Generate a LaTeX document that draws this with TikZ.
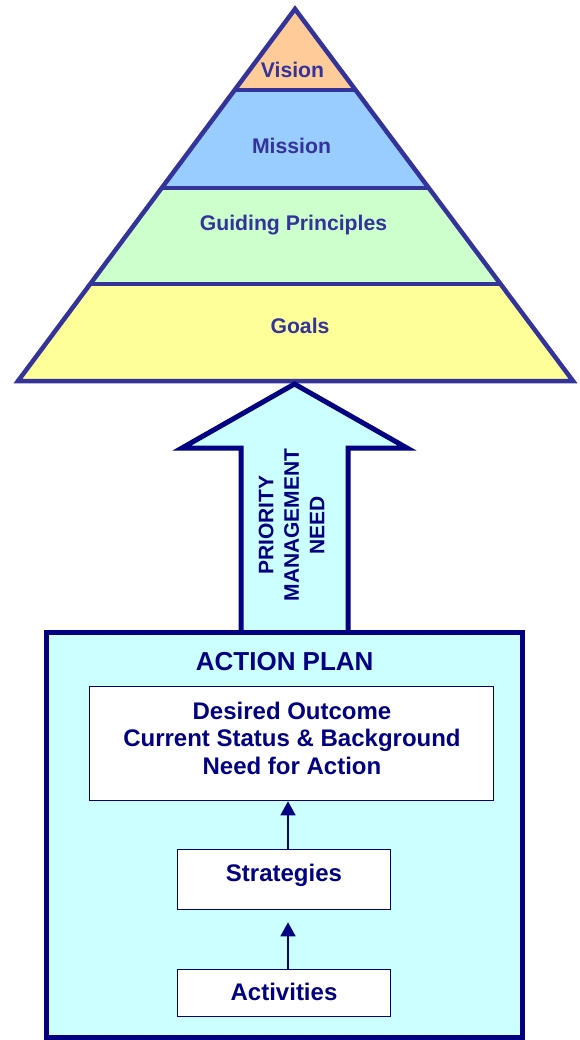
\documentclass[tikz,border=0pt]{standalone}
\usepackage{fontspec}
\setmainfont{Liberation Sans}
\usetikzlibrary{arrows.meta,calc}
\definecolor{pyr}{HTML}{333399}
\definecolor{navyc}{HTML}{000080}
\definecolor{visionc}{HTML}{FFCC99}
\definecolor{missionc}{HTML}{99CCFF}
\definecolor{guidec}{HTML}{CCFFCC}
\definecolor{goalsc}{HTML}{FFFF99}
\definecolor{aqua}{HTML}{CCFFFF}
\begin{document}
\begin{tikzpicture}[x=1pt,y=-1pt,
  pyrline/.style={draw=pyr, line width=4.5pt, line join=miter},
  pyrlabel/.style={font=\bfseries\fontsize{21.2}{24}\selectfont, text=pyr, inner sep=0, anchor=base},
  box/.style={draw=navyc, line width=1.6pt, fill=white, inner sep=0, rectangle},
  boxtext/.style={font=\bfseries\fontsize{24}{27.5}\selectfont, text=navyc, align=center, inner sep=0},
  flow/.style={draw=navyc, line width=1.6pt, -{Triangle[width=15pt,length=14pt]}},
  ]
\useasboundingbox (0,0) rectangle (580,1040);
% pyramid
\coordinate (apex) at (295,9);
\coordinate (bl) at (18,381);
\coordinate (br) at (573,381);
\coordinate (l1) at ($(apex)!0.2177!(bl)$);
\coordinate (r1) at ($(apex)!0.2177!(br)$);
\coordinate (l2) at ($(apex)!0.4812!(bl)$);
\coordinate (r2) at ($(apex)!0.4812!(br)$);
\coordinate (l3) at ($(apex)!0.7392!(bl)$);
\coordinate (r3) at ($(apex)!0.7392!(br)$);
\fill[visionc] (apex) -- (l1) -- (r1) -- cycle;
\fill[missionc] (l1) -- (l2) -- (r2) -- (r1) -- cycle;
\fill[guidec] (l2) -- (l3) -- (r3) -- (r2) -- cycle;
\fill[goalsc] (l3) -- (bl) -- (br) -- (r3) -- cycle;
\draw[pyrline] (apex) -- (bl) -- (br) -- cycle;
\draw[pyrline] (l1) -- (r1);
\draw[pyrline] (l2) -- (r2);
\draw[pyrline] (l3) -- (r3);
\node[pyrlabel] (vision) at (292.5,77.5) {Vision};
\node[pyrlabel] (mission) at (291.5,154) {Mission};
\node[pyrlabel] (guiding) at (293.5,230.5) {Guiding Principles};
\node[pyrlabel] (goals) at (300,333.5) {Goals};
% big arrow
\filldraw[fill=aqua, draw=navyc, line width=5pt, line join=miter]
  (241,632) -- (241,448) -- (182,448) -- (294.5,384) -- (407,448) -- (348,448) -- (348,632);
\node[font=\bfseries\fontsize{21}{25.5}\selectfont, text=navyc, align=center, rotate=90, inner sep=0] (need) at (291.5,525) {PRIORITY\\MANAGEMENT\\NEED};
% action plan
\node[draw=navyc, line width=5pt, fill=aqua, rectangle, inner sep=0, minimum width=475.5pt, minimum height=405pt] (plan) at (284.25,835) {};
\node[font=\bfseries\fontsize{26}{30}\selectfont, text=navyc, inner sep=0, anchor=base] (plantitle) at (284.7,670.7) {ACTION PLAN};
\node[box, minimum width=404pt, minimum height=114pt] (desired) at (291.5,743.5) {};
\node[boxtext] (desiredtext) at (292,738) {Desired Outcome\\Current Status \& Background\\Need for Action};
\node[box, minimum width=213pt, minimum height=60pt] (strat) at (284,879.5) {};
\node[boxtext, anchor=base] (strattext) at (284,881.5) {Strategies};
\node[box, minimum width=213pt, minimum height=47pt] (act) at (284,993) {};
\node[boxtext, anchor=base] (acttext) at (284,1000) {Activities};
\draw[flow] ([xshift=4pt]strat.north) -- ([xshift=4pt]strat.north |- desired.south);
\draw[flow, shorten >=12pt] ([xshift=4pt]act.north) -- ([xshift=4pt]strat.south);
\end{tikzpicture}
\end{document}
